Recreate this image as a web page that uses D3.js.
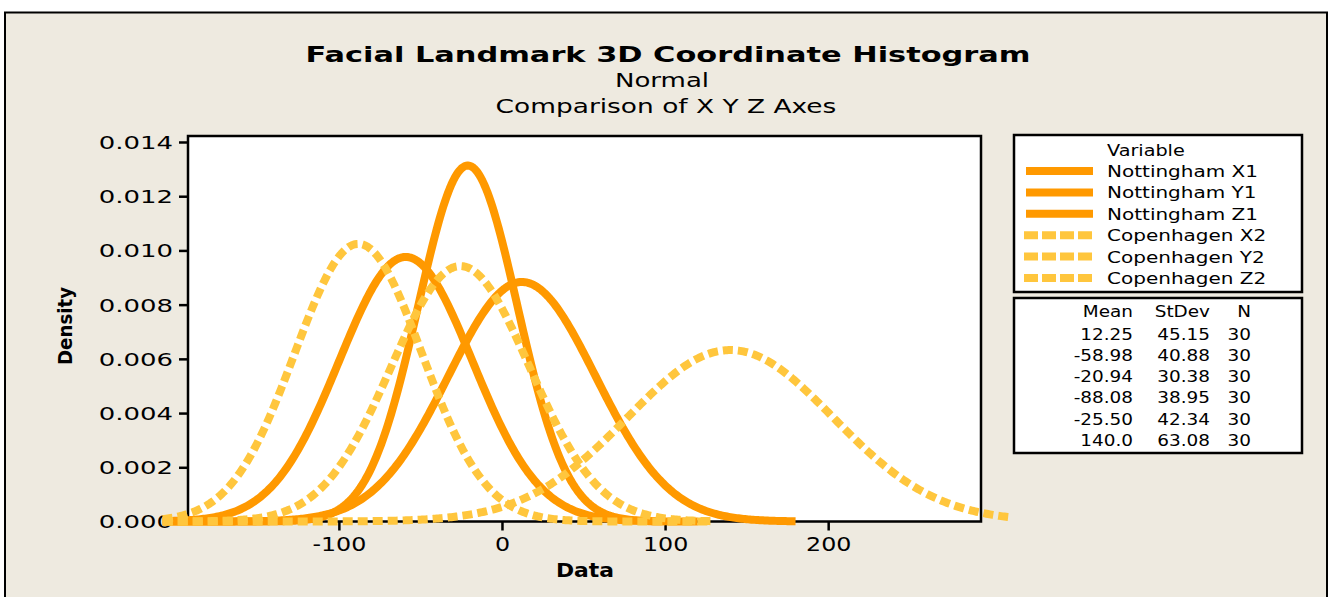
<!DOCTYPE html>
<html>
<head>
<meta charset="utf-8">
<script src="https://cdn.jsdelivr.net/npm/d3@7"></script>
<style>
  html, body { margin: 0; padding: 0; background: #fff; }
  svg { display: block; }
  text { font-family: "DejaVu Sans", Verdana, sans-serif; fill: #000; }
</style>
</head>
<body>
<div id="chart"></div>
<script>
// --- data (fitted normal curves + stats table) ---
const seriesNames = ["Nottingham X1", "Nottingham Y1", "Nottingham Z1", "Copenhagen X2", "Copenhagen Y2", "Copenhagen Z2"];
const means = [12.25, -58.98, -20.94, -88.08, -25.50, 140.0];
const meanLabels = ["12.25", "-58.98", "-20.94", "-88.08", "-25.50", "140.0"];
const stdevs = [45.15, 40.88, 30.38, 38.95, 42.34, 63.08];
const stdevLabels = ["45.15", "40.88", "30.38", "38.95", "42.34", "63.08"];
const counts = [30, 30, 30, 30, 30, 30];
// x range over which each curve is drawn
const curveFrom = [-208, -208, -208, -208, -208, -208];
const curveTo = [180, 120, 100, 128, 128, 311];
const lineKind = ["solid", "solid", "solid", "dash", "dash", "dash"];
const xTicks = [-100, 0, 100, 200];
const yTicks = [0, 0.002, 0.004, 0.006, 0.008, 0.010, 0.012, 0.014];

const W = 1330, H = 597;
const SOLID = "#ff9900", DASH = "#ffc63d";

const svg = d3.select("#chart").append("svg").attr("width", W).attr("height", H);

// background panel
svg.append("rect").attr("x", 0).attr("y", 0).attr("width", W).attr("height", H).attr("fill", "#fff");
svg.append("rect").attr("x", 5).attr("y", 12.5).attr("width", 1322).attr("height", 600)
  .attr("fill", "#eeeae0").attr("stroke", "#000").attr("stroke-width", 2);

// the reference lettering is stretched sideways
function stretch(sel, k) {
  sel.each(function () {
    const w = this.getComputedTextLength();
    d3.select(this).attr("textLength", w * k).attr("lengthAdjust", "spacingAndGlyphs");
  });
}

const x = d3.scaleLinear().domain([-192.5, 293.7]).range([188, 981]);
const y = d3.scaleLinear().domain([0, 0.014221]).range([521.5, 136]);

// plot area
svg.append("rect").attr("x", 188).attr("y", 136).attr("width", 981 - 188).attr("height", 521.5 - 136)
  .attr("fill", "#fff").attr("stroke", "#000").attr("stroke-width", 2.5);

// axes
const yAxis = svg.append("g").attr("transform", "translate(188,0)")
  .call(d3.axisLeft(y).tickValues(yTicks).tickSize(9).tickPadding(6).tickFormat(d3.format(".3f")));
const xAxis = svg.append("g").attr("transform", "translate(0,521.5)")
  .call(d3.axisBottom(x).tickValues(xTicks).tickSize(9).tickFormat(d3.format("d")));
[yAxis, xAxis].forEach(g => {
  g.select(".domain").remove();
  g.selectAll(".tick line").attr("stroke", "#000").attr("stroke-width", 2.5);
});
yAxis.selectAll(".tick text").attr("font-size", 18).attr("font-family", "DejaVu Sans").attr("dy", "0.36em").call(stretch, 1.44);
xAxis.selectAll(".tick text").attr("font-size", 19).attr("font-family", "DejaVu Sans")
  .attr("y", 29).attr("dy", 0).text(d => d < 0 ? "-" + Math.abs(d) : d).call(stretch, 1.25);

// curves
const pdf = (v, m, s) => Math.exp(-0.5 * ((v - m) / s) ** 2) / (s * Math.sqrt(2 * Math.PI));
const line = d3.line().x(d => x(d[0])).y(d => y(d[1]));
seriesNames.forEach((name, i) => {
  const pts = d3.range(curveFrom[i], curveTo[i] + 0.5, 1).map(v => [v, pdf(v, means[i], stdevs[i])]);
  svg.append("path").datum(pts)
    .attr("d", line)
    .attr("fill", "none")
    .attr("stroke", lineKind[i] === "solid" ? SOLID : DASH)
    .attr("stroke-width", 8)
    .attr("stroke-dasharray", lineKind[i] === "solid" ? null : "10,5")
    .attr("stroke-linejoin", "round");
});

// titles
svg.append("text").attr("x", 668).attr("y", 62).attr("text-anchor", "middle")
  .attr("font-size", 22).attr("font-weight", "bold")
  .attr("textLength", 725).attr("lengthAdjust", "spacingAndGlyphs")
  .text("Facial Landmark 3D Coordinate Histogram");
svg.append("text").attr("x", 662).attr("y", 87).attr("text-anchor", "middle")
  .attr("font-size", 19).text("Normal").call(stretch, 1.37);
svg.append("text").attr("x", 666).attr("y", 113).attr("text-anchor", "middle")
  .attr("font-size", 19).text("Comparison of X Y Z Axes").call(stretch, 1.39);

svg.append("text").attr("x", 585).attr("y", 577).attr("text-anchor", "middle")
  .attr("font-size", 19).attr("font-weight", "bold").text("Data").call(stretch, 1.15);
svg.append("text").attr("transform", "translate(72,326) rotate(-90)").attr("text-anchor", "middle")
  .attr("font-size", 19).attr("font-weight", "bold")
  .attr("textLength", 78).attr("lengthAdjust", "spacingAndGlyphs").text("Density");

// legend
const leg = svg.append("g");
leg.append("rect").attr("x", 1014).attr("y", 135).attr("width", 288).attr("height", 157)
  .attr("fill", "#fff").attr("stroke", "#000").attr("stroke-width", 2.5);
leg.append("text").attr("x", 1107).attr("y", 156).attr("font-size", 16).text("Variable").call(stretch, 1.2);
seriesNames.forEach((name, i) => {
  const by = 177 + i * 21.4;
  const solid = lineKind[i] === "solid";
  leg.append("line").attr("x1", solid ? 1026 : 1024).attr("x2", 1093)
    .attr("y1", by - 6).attr("y2", by - 6)
    .attr("stroke", solid ? SOLID : DASH).attr("stroke-width", 8)
    .attr("stroke-dasharray", solid ? null : "14,4");
  leg.append("text").attr("x", 1107).attr("y", by).attr("font-size", 16).text(name).call(stretch, 1.25);
});

// stats table
const tab = svg.append("g");
tab.append("rect").attr("x", 1014).attr("y", 298).attr("width", 288).attr("height", 155)
  .attr("fill", "#fff").attr("stroke", "#000").attr("stroke-width", 2.5);
const cols = [1133, 1210, 1251];
["Mean", "StDev", "N"].forEach((h, j) => {
  tab.append("text").attr("x", cols[j]).attr("y", 317).attr("text-anchor", "end")
    .attr("font-size", 16).text(h).call(stretch, 1.15);
});
seriesNames.forEach((name, i) => {
  const by = 339.5 + i * 21.3;
  [meanLabels[i], stdevLabels[i], String(counts[i])].forEach((t, j) => {
    tab.append("text").attr("x", cols[j]).attr("y", by).attr("text-anchor", "end")
      .attr("font-size", 16).text(t).call(stretch, 1.15);
  });
});
</script>
</body>
</html>
